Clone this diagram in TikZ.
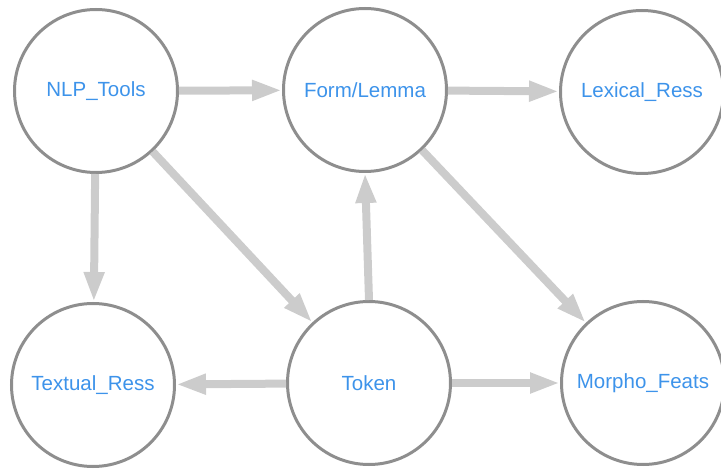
\documentclass[tikz,border=0pt]{standalone}
\usepackage{fontspec}
\setmainfont{Liberation Sans}
\usepackage{xcolor}
\usetikzlibrary{arrows.meta}
\definecolor{ringgray}{HTML}{8E8E8E}
\definecolor{edgegray}{HTML}{CCCCCC}
\definecolor{labelblue}{HTML}{3D93EA}

\begin{document}
\begin{tikzpicture}[
  x=1pt, y=-1pt,
  entity/.style={circle, draw=ringgray, line width=3pt, minimum size=163pt, inner sep=0pt, text=labelblue, font=\fontsize{20.5}{24}\selectfont},
  link/.style={draw=edgegray, line width=8pt, -{Triangle[length=30pt, width=19pt]}}
]
  \useasboundingbox (0,0) rectangle (721,470);
  \node[entity] (nlp) at (96,91) {NLP\_Tools};
  \node[entity] (form) at (365,90) {Form/Lemma};
  \node[entity] (lex) at (642,92) {Lexical\_Ress};
  \node[entity] (text) at (93,385) {Textual\_Ress};
  \node[entity] (tok) at (369,383) {Token};
  \node[entity] (morph) at (643,383) {Morpho\_Feats};
  \draw[link] (nlp) -- (form);
  \draw[link] (form) -- (lex);
  \draw[link] (nlp) -- (text);
  \draw[link] (nlp) -- (tok);
  \draw[link] (form) -- (morph);
  \draw[link] (tok.north) -- (form.south);
  \draw[link] (tok) -- (text);
  \draw[link] (tok) -- (morph);
\end{tikzpicture}
\end{document}
